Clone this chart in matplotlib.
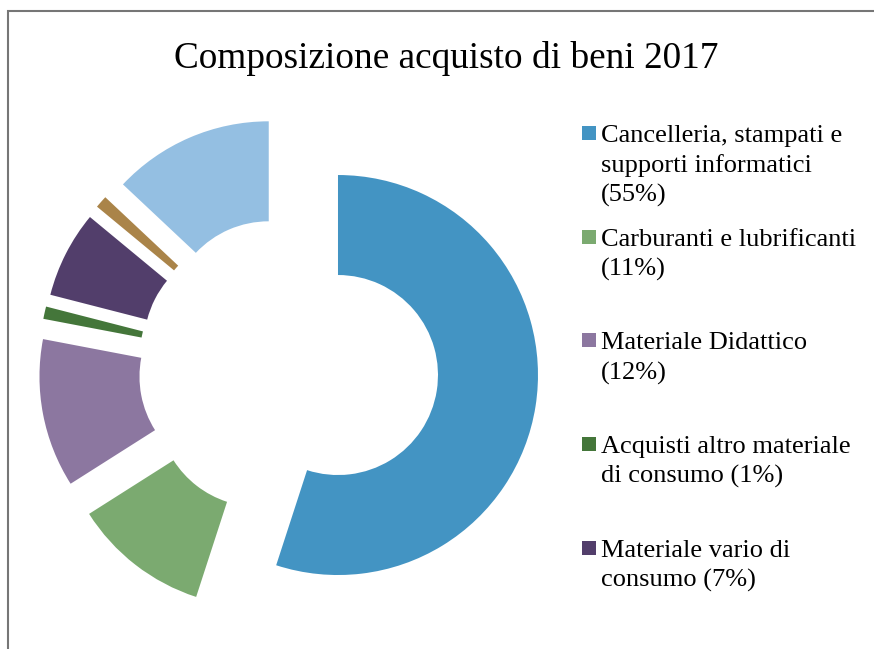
import matplotlib
matplotlib.use("Agg")
import matplotlib.pyplot as plt
from matplotlib.patches import Rectangle

# data
categories = [
    "Cancelleria, stampati e supporti informatici",
    "Carburanti e lubrificanti",
    "Materiale Didattico",
    "Acquisti altro materiale di consumo",
    "Materiale vario di consumo",
    "Altro",
    "Altri beni",
]
shares = [55, 11, 12, 1, 7, 1, 13]
colors = ["#4394C3", "#7BAA70", "#8C77A0", "#44763A", "#523E6B", "#AA8449", "#94BFE2"]

# legend as shown (only five entries are visible in the picture)
legend_labels = [
    "Cancelleria, stampati e\nsupporti informatici\n(55%)",
    "Carburanti e lubrificanti\n(11%)",
    "Materiale Didattico\n(12%)",
    "Acquisti altro materiale\ndi consumo (1%)",
    "Materiale vario di\nconsumo (7%)",
]

W, H = 874, 649
fig = plt.figure(figsize=(W / 100, H / 100), dpi=100)
ax = fig.add_axes([0, 0, 1, 1])

# pie centre in pixels, radius 200 px
cx, cy, R = 288.6, 367.2, 200.0
ax.pie(shares, colors=colors, startangle=90, counterclock=False,
       explode=[0.25] * len(shares), radius=1,
       wedgeprops=dict(width=0.5, linewidth=0))
ax.set_xlim(-cx / R, (W - cx) / R)
ax.set_ylim((cy - H) / R, cy / R)
ax.set_aspect("auto")
ax.axis("off")

# chart frame (cropped at right/bottom)
fig.patches.append(Rectangle((8 / W, -0.1), 1.2, 1 - 11 / H + 0.1,
                             transform=fig.transFigure, fill=False,
                             edgecolor="#767676", linewidth=1.5))

serif = ["Liberation Serif", "DejaVu Serif"]
fig.text(446 / W, 1 - 58 / H, "Composizione acquisto di beni 2017",
         ha="center", va="center", fontsize=26.8, family=serif)

for i, lab in enumerate(legend_labels):
    y = 133 + i * 103.7
    fig.patches.append(Rectangle((582 / W, 1 - (y + 7) / H), 14 / W, 14 / H,
                                 transform=fig.transFigure,
                                 facecolor=colors[i], edgecolor="none"))
    fig.text(601 / W, 1 - (y - 8) / H, lab, ha="left", va="top",
             fontsize=19, family=serif, linespacing=1.40)

fig.savefig("out.png", dpi=100)
